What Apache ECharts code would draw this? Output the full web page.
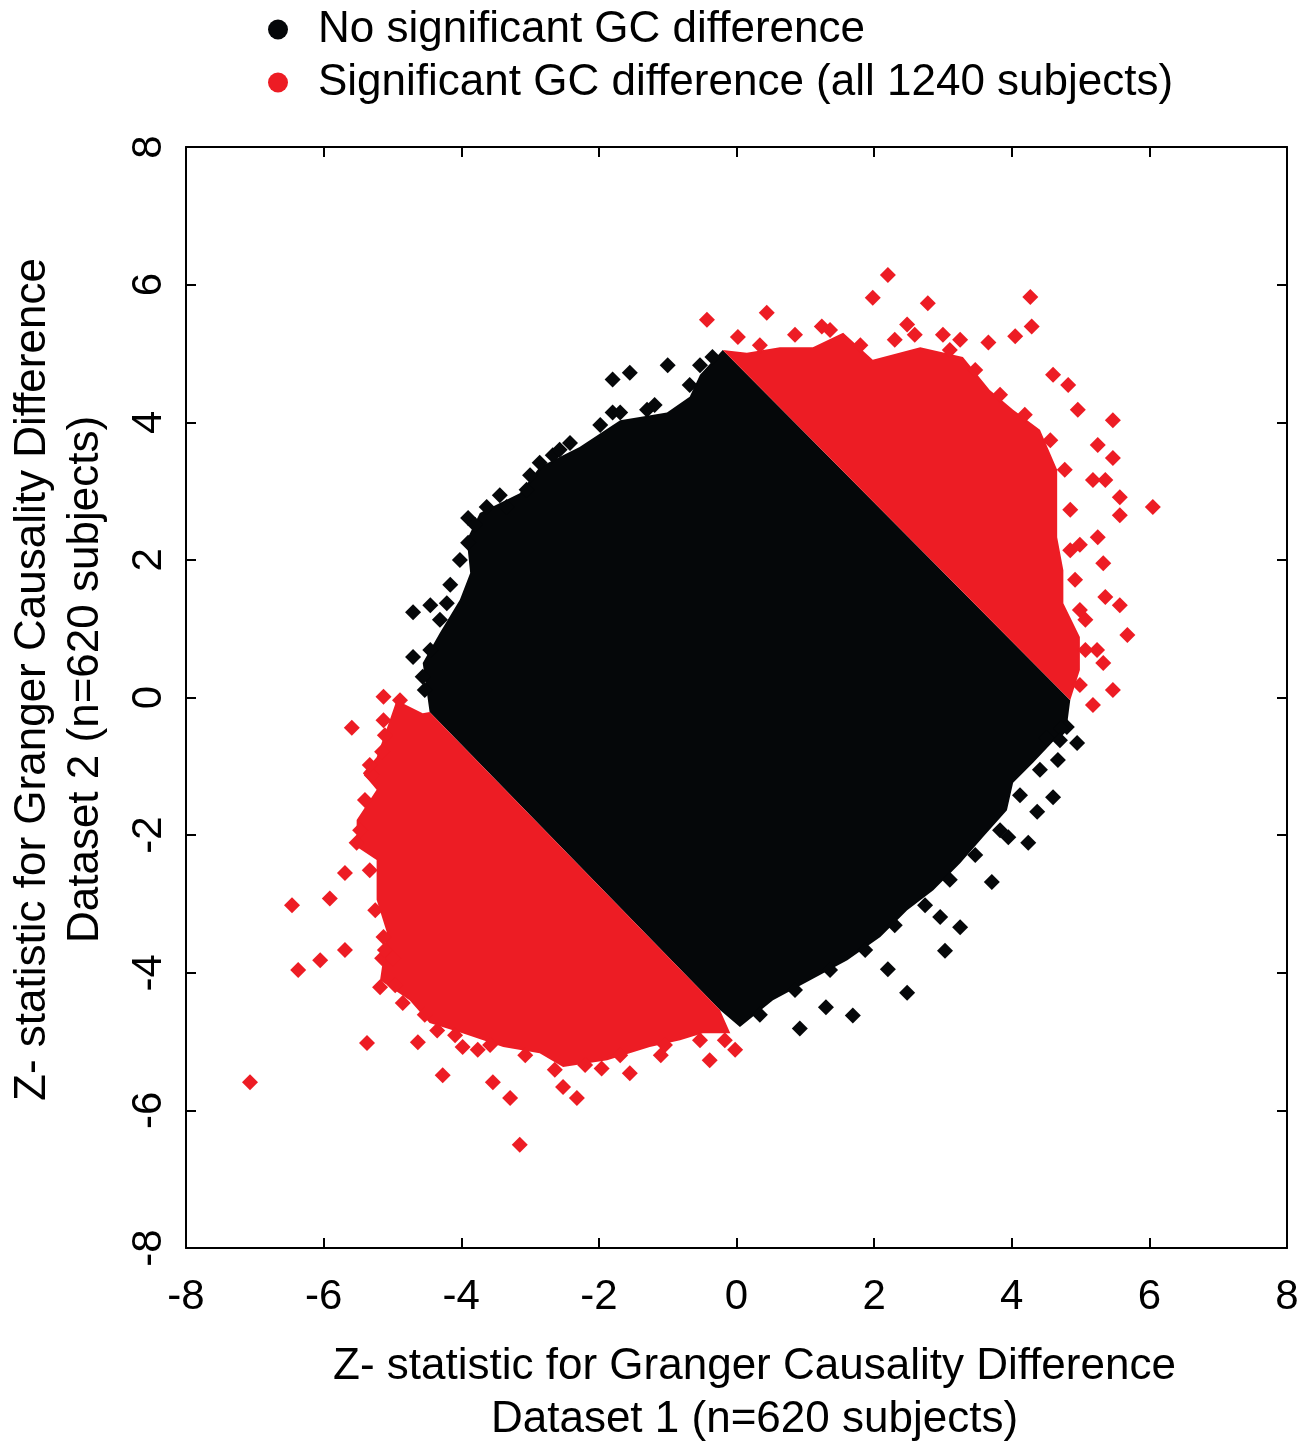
<!doctype html>
<html>
<head>
<meta charset="utf-8">
<title>GC difference scatter</title>
<script src="https://cdn.jsdelivr.net/npm/echarts@6/dist/echarts.min.js"></script>
<style>
  html, body { margin: 0; padding: 0; background: #fff; }
  #main { width: 1312px; height: 1442px; }
</style>
</head>
<body>
<div id="main"></div>
<script>
// axis ticks
var xTicks = [-8, -6, -4, -2, 0, 2, 4, 6, 8];
var yTicks = [-8, -6, -4, -2, 0, 2, 4, 6, 8];

var nameNo = 'No significant GC difference';
var nameSig = 'Significant GC difference (all 1240 subjects)';

// dense core of non-significant points (outline of the filled cloud)
var blackCore = [
  [-4.46, -0.21], [-4.56, 0.50], [-4.31, 0.94], [-4.02, 1.42], [-3.87, 1.81],
  [-3.92, 2.29], [-3.73, 2.68], [-3.15, 2.97], [-2.86, 3.35], [-2.28, 3.64],
  [-1.69, 4.03], [-1.01, 4.14], [-0.68, 4.37], [-0.53, 4.69], [-0.20, 5.05],
  [4.85, -0.04], [4.80, -0.43], [4.31, -0.95], [4.02, -1.24], [3.93, -1.64],
  [3.58, -2.03], [3.25, -2.41], [2.86, -2.80], [2.48, -3.09], [2.09, -3.48],
  [1.61, -3.82], [1.07, -4.11], [0.53, -4.40], [0.05, -4.79], [-0.24, -4.54]
];

// dense significant cloud, upper right
var redUpper = [
  [-0.20, 5.05], [4.85, -0.04], [4.99, 0.40], [4.99, 0.88], [4.75, 1.37],
  [4.75, 1.85], [4.66, 2.33], [4.66, 2.83], [4.66, 3.31], [4.41, 3.89],
  [4.02, 4.18], [3.68, 4.47], [3.29, 4.95], [2.67, 5.09], [1.98, 4.91],
  [1.55, 5.30], [1.11, 5.09], [0.63, 5.09], [0.15, 5.01]
];

// dense significant cloud, lower left
var redLower = [
  [-4.46, -0.21], [-0.24, -4.54], [-0.09, -4.88], [-0.49, -4.88], [-0.82, -4.98],
  [-1.26, -5.08], [-1.88, -5.27], [-2.52, -5.37], [-2.86, -5.17], [-3.39, -5.08],
  [-3.98, -4.88], [-4.46, -4.73], [-4.75, -4.40], [-5.18, -4.11], [-5.08, -3.42],
  [-5.23, -2.94], [-5.23, -2.36], [-5.52, -2.17], [-5.52, -1.78], [-5.23, -1.34],
  [-5.43, -1.10], [-5.23, -0.87], [-5.04, -0.33], [-4.94, -0.04], [-4.56, -0.23]
];

// scattered non-significant points outside / on the edge of the core
var blackPoints = [
  [-1.00, 4.83], [-1.55, 4.72], [-1.80, 4.62], [-1.80, 4.14], [-1.69, 4.14],
  [-1.30, 4.18], [-2.42, 3.70], [-2.67, 3.52], [-2.86, 3.41], [-3.05, 3.02],
  [-3.34, 2.77], [-3.63, 2.77], [-3.90, 2.61], [-3.90, 2.25], [-4.70, 1.24],
  [-4.45, 1.34], [-4.21, 1.37], [-4.70, 0.59], [-4.56, 0.30], [-0.35, 4.95],
  [-0.53, 4.83], [-0.68, 4.54], [-1.19, 4.25], [-1.98, 3.96], [-2.57, 3.60],
  [-3.00, 3.23], [-3.44, 2.94], [-3.80, 2.51], [-4.02, 2.00], [-4.16, 1.64],
  [-4.31, 1.13], [-4.45, 0.69], [-4.53, 0.11],
  [4.95, -0.66], [4.67, -0.91], [4.60, -1.45], [4.37, -1.66], [4.24, -2.11],
  [3.95, -2.03], [3.71, -2.68], [3.25, -3.34], [3.03, -3.68], [2.48, -4.29],
  [1.69, -4.62], [0.92, -4.81], [4.80, -0.43], [2.96, -3.19], [4.51, -0.59],
  [4.72, -0.45], [1.30, -4.50], [2.20, -3.95],
  [4.70, -0.62], [4.41, -1.05], [4.12, -1.42], [3.83, -1.93], [3.47, -2.29],
  [3.10, -2.65], [2.74, -3.02], [2.30, -3.31], [1.87, -3.67], [1.36, -3.96],
  [0.85, -4.25], [0.34, -4.61]
];

// scattered significant points outside / on the edge of the dense clouds
var redPoints = [
  [2.20, 6.14], [1.98, 5.81], [2.78, 5.73], [4.27, 5.82], [4.29, 5.39],
  [4.05, 5.25], [3.66, 5.16], [3.00, 5.27], [2.48, 5.42], [2.59, 5.27],
  [-0.43, 5.49], [0.44, 5.59], [1.24, 5.39], [0.02, 5.24], [4.60, 4.69],
  [4.82, 4.54], [5.47, 4.03], [5.25, 3.67], [5.47, 3.48], [5.18, 3.16],
  [5.36, 3.16], [5.57, 2.91], [6.05, 2.77], [5.57, 2.65], [5.25, 2.33],
  [5.33, 1.95], [5.36, 1.46], [5.57, 1.34], [5.68, 0.91], [5.24, 0.69],
  [5.47, 0.11], [5.18, -0.11], [5.33, 0.50], [4.96, 4.18], [4.99, 2.22],
  [5.07, 1.13], [3.25, 5.20],
  [0.34, 5.12], [0.85, 5.27], [1.36, 5.34], [1.80, 5.12], [2.30, 5.20],
  [3.10, 5.05], [3.47, 4.76], [3.83, 4.40], [4.19, 4.11], [4.56, 3.74],
  [4.77, 3.31], [4.85, 2.73], [4.85, 2.14], [4.92, 1.71], [4.99, 1.27],
  [5.07, 0.69], [4.99, 0.18],
  [-7.07, -5.59], [-6.46, -3.02], [-6.37, -3.96], [-6.05, -3.82], [-5.91, -2.92],
  [-5.69, -2.55], [-5.69, -3.67], [-5.59, -0.44], [-5.37, -5.02], [-5.13, -0.33],
  [-5.13, 0.01], [-5.15, -0.79], [-5.13, -3.48], [-5.15, -3.79], [-4.99, -3.79],
  [-5.18, -4.21], [-4.85, -4.44], [-4.63, -5.01], [-4.27, -5.49], [-3.54, -5.59],
  [-3.29, -5.82], [-3.15, -6.50], [-2.32, -5.82], [-2.52, -5.66], [-1.96, -5.39],
  [-1.55, -5.46], [-0.39, -5.27], [-0.02, -5.12], [-3.98, -5.08], [-3.76, -5.12],
  [-4.35, -4.84], [-5.30, -1.13], [-5.52, -2.11], [-1.10, -5.20],
  [-4.89, -0.04], [-5.11, -0.55], [-5.33, -0.98], [-5.40, -1.49], [-5.47, -1.93],
  [-5.33, -2.51], [-5.25, -3.09], [-5.11, -3.67], [-4.96, -4.18], [-4.53, -4.61],
  [-4.09, -4.91], [-3.58, -5.05], [-3.07, -5.20], [-2.64, -5.41], [-2.20, -5.34],
  [-1.69, -5.20], [-1.04, -5.05], [-0.53, -4.98], [-0.17, -4.98]
];

var BLACK = '#050709';
var RED = '#ED1C24';
var FONT = 'Liberation Sans, Arial, Helvetica, sans-serif';

function cloud(name, verts, color) {
  return {
    type: 'custom',
    name: name,
    data: verts,
    encode: { x: 0, y: 1 },
    silent: true,
    z: 1,
    renderItem: function (params, api) {
      if (params.dataIndex !== 0) return null;
      return {
        type: 'polygon',
        shape: { points: verts.map(function (v) { return api.coord(v); }) },
        style: { fill: color }
      };
    }
  };
}

var chart = echarts.init(document.getElementById('main'));

var tickStyle = { inside: true, length: 10, lineStyle: { color: '#000', width: 2 } };
var lineStyle = { onZero: false, lineStyle: { color: '#000', width: 2 } };

chart.setOption({
  animation: false,
  backgroundColor: '#fff',
  grid: { left: 186, right: 25, top: 147, bottom: 194, outerBoundsMode: 'none', containLabel: false },
  legend: {
    data: [nameNo, nameSig],
    orient: 'vertical',
    left: 263,
    top: -2,
    itemGap: 0,
    itemWidth: 20,
    itemHeight: 22,
    icon: 'circle',
    textStyle: { fontSize: 44, color: '#000', fontFamily: FONT, lineHeight: 53, padding: [0, 0, 0, 25] }
  },
  xAxis: [{
    type: 'value', min: -8, max: 8, interval: 2, position: 'bottom',
    axisLine: lineStyle, axisTick: tickStyle, splitLine: { show: false },
    axisLabel: { fontSize: 42, color: '#000', fontFamily: FONT, margin: 28,
      formatter: function (v) { return xTicks.indexOf(v) >= 0 ? String(v) : ''; } },
    name: 'Z- statistic for Granger Causality Difference\nDataset 1 (n=620 subjects)',
    nameLocation: 'middle', nameGap: 92,
    nameTextStyle: { fontSize: 44, color: '#000', fontFamily: FONT, lineHeight: 53, padding: [0, 0, 0, 36] }
  }, {
    type: 'value', min: -8, max: 8, interval: 2, position: 'top',
    axisLine: lineStyle, axisTick: tickStyle, splitLine: { show: false },
    axisLabel: { show: false }
  }],
  yAxis: [{
    type: 'value', min: -8, max: 8, interval: 2, position: 'left',
    axisLine: lineStyle, axisTick: tickStyle, splitLine: { show: false },
    axisLabel: { fontSize: 42, color: '#000', fontFamily: FONT, margin: 16, rotate: 90,
      formatter: function (v) { return yTicks.indexOf(v) >= 0 ? String(v) : ''; } },
    name: 'Z- statistic for Granger Causality Difference\nDataset 2 (n=620 subjects)',
    nameLocation: 'middle', nameGap: 74, nameRotate: 90,
    nameTextStyle: { fontSize: 44, color: '#000', fontFamily: FONT, lineHeight: 53, padding: [0, 0, 0, 36] }
  }, {
    type: 'value', min: -8, max: 8, interval: 2, position: 'right',
    axisLine: lineStyle, axisTick: tickStyle, splitLine: { show: false },
    axisLabel: { show: false }
  }],
  series: [
    cloud('core', blackCore, BLACK),
    cloud('upper', redUpper, RED),
    cloud('lower', redLower, RED),
    {
      name: nameNo, type: 'scatter', data: blackPoints,
      symbol: 'diamond', symbolSize: 16, z: 3,
      itemStyle: { color: BLACK, opacity: 1 }
    },
    {
      name: nameSig, type: 'scatter', data: redPoints,
      symbol: 'diamond', symbolSize: 16, z: 3,
      itemStyle: { color: RED, opacity: 1 }
    }
  ]
});
</script>
</body>
</html>
